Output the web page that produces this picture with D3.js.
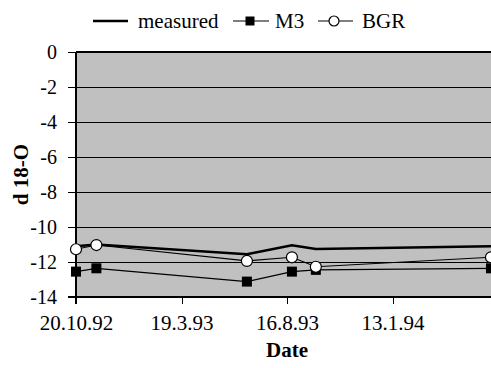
<!DOCTYPE html>
<html>
<head>
<meta charset="utf-8">
<script src="https://cdn.jsdelivr.net/npm/d3@7"></script>
<style>
  html, body { margin: 0; padding: 0; background: #fff; overflow: hidden; }
  svg { display: block; }
  svg text { font-family: "Liberation Serif", "Times New Roman", Tinos, "DejaVu Serif", serif !important; font-size: 21px; fill: #000; }
  svg text.bold { font-weight: bold; }
  line.crisp, .tick line { shape-rendering: crispEdges; }
</style>
</head>
<body>
<svg id="chart" width="491" height="368"></svg>
<script>
// ---- data ----
const measuredDates = ["1992-10-20", "1992-11-18", "1993-06-20", "1993-08-23", "1993-09-26", "1994-06-02"];
const measuredValues = [-11.1, -11.0, -11.55, -11.05, -11.25, -11.1];
const m3Dates = ["1992-10-20", "1992-11-18", "1993-06-20", "1993-08-23", "1993-09-26", "1994-06-02"];
const m3Values = [-12.55, -12.36, -13.12, -12.55, -12.45, -12.36];
const bgrDates = ["1992-10-20", "1992-11-18", "1993-06-20", "1993-08-23", "1993-09-26", "1994-06-02"];
const bgrValues = [-11.27, -11.03, -11.94, -11.73, -12.27, -11.73];
const xTickDates = ["1992-10-20", "1993-03-19", "1993-08-16", "1994-01-13", "1994-06-12"];
const xTickLabels = ["20.10.92", "19.3.93", "16.8.93", "13.1.94", ""];
const yTicks = [0, -2, -4, -6, -8, -10, -12, -14];
const seriesNames = ["measured", "M3", "BGR"];

const parse = d3.utcParse("%Y-%m-%d");
const svg = d3.select("#chart");

const mLeft = 76, mTop = 52, mBottom = 297;
const mRight = 498; // plot continues past the visible edge

const x = d3.scaleUtc()
  .domain([parse(xTickDates[0]), parse(xTickDates[xTickDates.length - 1])])
  .range([mLeft, mRight]);
const y = d3.scaleLinear().domain([-14, 0]).range([mBottom, mTop]);

// plot background
svg.append("rect")
  .attr("x", mLeft).attr("y", mTop)
  .attr("width", mRight - mLeft).attr("height", mBottom - mTop)
  .attr("fill", "#c0c0c0");

// gridlines
svg.append("g").selectAll("line")
  .data(yTicks.filter(v => v !== -14))
  .join("line")
  .attr("class", "crisp")
  .attr("x1", mLeft).attr("x2", mRight)
  .attr("y1", d => y(d)).attr("y2", d => y(d))
  .attr("stroke", "#000").attr("stroke-width", d => d === 0 ? 2 : 1);

// y axis
const yAxis = d3.axisLeft(y).tickValues(yTicks).tickSize(8).tickPadding(11);
const gy = svg.append("g").attr("transform", `translate(${mLeft},0)`).call(yAxis);
gy.attr("font-family", null).attr("font-size", null);
gy.select(".domain").remove();
gy.selectAll(".tick line").attr("stroke", "#000").attr("stroke-width", 1);
gy.selectAll(".tick text")
  .style("font-size", "20px")
  .text(d => d === 0 ? "0" : "-" + Math.abs(d));

// x axis
const xAxis = d3.axisBottom(x)
  .tickValues(xTickDates.map(parse))
  .tickSize(7).tickPadding(14)
  .tickFormat((d, i) => xTickLabels[i]);
const gx = svg.append("g").attr("transform", `translate(0,${mBottom})`).call(xAxis);
gx.attr("font-family", null).attr("font-size", null);
gx.select(".domain").remove();
gx.selectAll(".tick line").attr("stroke", "#000").attr("stroke-width", 1);
gx.selectAll(".tick text").attr("dy", null).attr("y", 33);

// axis lines
svg.append("line").attr("class", "crisp").attr("x1", mLeft - 8).attr("x2", mRight).attr("y1", mBottom).attr("y2", mBottom)
  .attr("stroke", "#000").attr("stroke-width", 2);
svg.append("line").attr("class", "crisp").attr("x1", mLeft).attr("x2", mLeft).attr("y1", mTop).attr("y2", mBottom + 7)
  .attr("stroke", "#000").attr("stroke-width", 2);

// series
const line = d3.line().x(d => x(d.date)).y(d => y(d.value));
const zip = (dates, vals) => dates.map((d, i) => ({ date: parse(d), value: vals[i] }));
const measured = zip(measuredDates, measuredValues);
const m3 = zip(m3Dates, m3Values);
const bgr = zip(bgrDates, bgrValues);

svg.append("path").datum(measured).attr("d", line)
  .attr("fill", "none").attr("stroke", "#000").attr("stroke-width", 2.5);

svg.append("path").datum(m3).attr("d", line)
  .attr("fill", "none").attr("stroke", "#000").attr("stroke-width", 1.2);
svg.append("g").selectAll("rect").data(m3).join("rect")
  .attr("x", d => x(d.date) - 5).attr("y", d => y(d.value) - 5)
  .attr("width", 10).attr("height", 10).attr("fill", "#000");

svg.append("path").datum(bgr).attr("d", line)
  .attr("fill", "none").attr("stroke", "#000").attr("stroke-width", 1.2);
svg.append("g").selectAll("circle").data(bgr).join("circle")
  .attr("cx", d => x(d.date)).attr("cy", d => y(d.value)).attr("r", 5.5)
  .attr("fill", "#fff").attr("stroke", "#000").attr("stroke-width", 1.2);

// axis titles
svg.append("text").attr("class", "bold").attr("x", (mLeft + mRight) / 2).attr("y", 357)
  .attr("text-anchor", "middle")
  .text("Date");
svg.append("text").attr("class", "bold").attr("transform", `translate(28,${(mTop + mBottom) / 2}) rotate(-90)`)
  .attr("text-anchor", "middle")
  .text("d 18-O");

// legend
const lg = svg.append("g");
const ly = 21;
lg.append("line").attr("x1", 93).attr("x2", 128).attr("y1", ly).attr("y2", ly)
  .attr("stroke", "#000").attr("stroke-width", 2.5);
lg.append("text").attr("x", 138).attr("y", ly + 7).text(seriesNames[0]);
lg.append("line").attr("x1", 233).attr("x2", 269).attr("y1", ly).attr("y2", ly)
  .attr("stroke", "#000").attr("stroke-width", 1.2);
lg.append("rect").attr("x", 250 - 4.5).attr("y", ly - 4.5).attr("width", 9).attr("height", 9).attr("fill", "#000");
lg.append("text").attr("x", 275).attr("y", ly + 7).text(seriesNames[1]);
lg.append("line").attr("x1", 318).attr("x2", 353).attr("y1", ly).attr("y2", ly)
  .attr("stroke", "#000").attr("stroke-width", 1.2);
lg.append("circle").attr("cx", 334).attr("cy", ly).attr("r", 5)
  .attr("fill", "#fff").attr("stroke", "#000").attr("stroke-width", 1.2);
lg.append("text").attr("x", 362).attr("y", ly + 7).text(seriesNames[2]);
</script>
</body>
</html>
